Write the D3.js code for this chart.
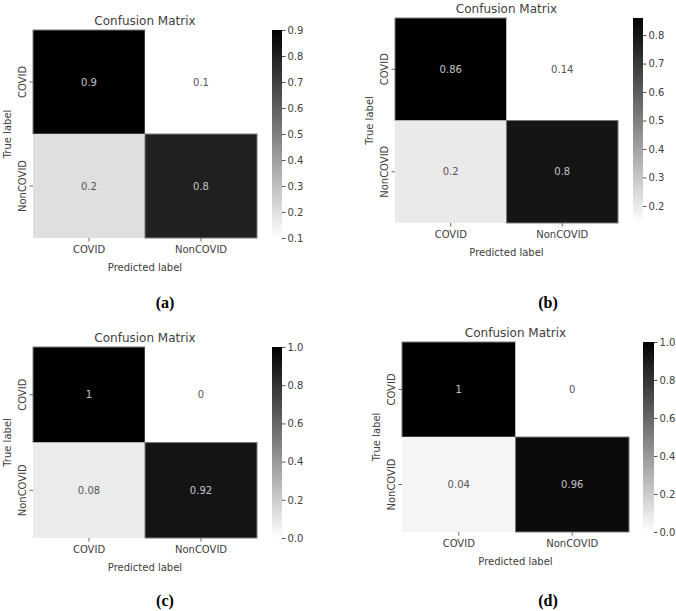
<!DOCTYPE html>
<html>
<head>
<meta charset="utf-8">
<script src="https://cdn.jsdelivr.net/npm/d3@7"></script>
<style>
  html, body { margin: 0; padding: 0; background: #fff; }
  svg { display: block; font-family: "DejaVu Sans", sans-serif; }
  text.plabel { font-family: "Liberation Serif", "Times New Roman", serif; font-weight: bold; }
</style>
</head>
<body>
<svg id="chart" width="676" height="611"></svg>
<script>
// ---- data ----
const categories = ["COVID", "NonCOVID"];
const titleText = "Confusion Matrix";
const xLabel = "Predicted label";
const yLabel = "True label";
const panelLabels = ["(a)", "(b)", "(c)", "(d)"];
const matrixA = [[0.9, 0.1], [0.2, 0.8]];
const matrixB = [[0.86, 0.14], [0.2, 0.8]];
const matrixC = [[1, 0], [0.08, 0.92]];
const matrixD = [[1, 0], [0.04, 0.96]];
const ticksA = [0.1, 0.2, 0.3, 0.4, 0.5, 0.6, 0.7, 0.8, 0.9];
const ticksB = [0.2, 0.3, 0.4, 0.5, 0.6, 0.7, 0.8];
const ticksC = [0.0, 0.2, 0.4, 0.6, 0.8, 1.0];
const ticksD = [0.0, 0.2, 0.4, 0.6, 0.8, 1.0];

// ---- layout (positions only) ----
const layouts = [
  { x0: 33,  y0: 30,  w: 224, h: 208, cbx: 272, cbw: 10, lx: 165, ly: 308 },
  { x0: 395, y0: 18,  w: 223, h: 205, cbx: 633, cbw: 10, lx: 548, ly: 308 },
  { x0: 33,  y0: 347, w: 224, h: 191, cbx: 272, cbw: 10, lx: 165, ly: 606 },
  { x0: 402, y0: 342, w: 227, h: 190, cbx: 643, cbw: 11, lx: 548, ly: 606 }
];
const matrices = [matrixA, matrixB, matrixC, matrixD];
const tickSets = [ticksA, ticksB, ticksC, ticksD];

const svg = d3.select("#chart");
const textCol = "#404040";

matrices.forEach((m, i) => {
  const L = layouts[i];
  const g = svg.append("g");
  const flat = m.flat();
  const vmin = d3.min(flat), vmax = d3.max(flat);
  const color = d3.scaleLinear().domain([vmin, vmax]).range(["#ffffff", "#000000"]);
  const x = d3.scaleBand().domain(categories).range([L.x0, L.x0 + L.w]);
  const y = d3.scaleBand().domain(categories).range([L.y0, L.y0 + L.h]);

  const cells = [];
  m.forEach((row, r) => row.forEach((v, c) => cells.push({ r: categories[r], c: categories[c], v })));

  g.selectAll("rect.cell").data(cells).enter().append("rect")
    .attr("x", d => x(d.c)).attr("y", d => y(d.r))
    .attr("width", x.bandwidth()).attr("height", y.bandwidth())
    .attr("fill", d => color(d.v))
    .attr("stroke", d => (d.v - vmin) / (vmax - vmin) > 0.5 ? "#7a7a7a" : "none")
    .attr("stroke-width", 1);

  g.selectAll("text.ann").data(cells).enter().append("text")
    .attr("x", d => x(d.c) + x.bandwidth() / 2)
    .attr("y", d => y(d.r) + y.bandwidth() / 2)
    .attr("dy", "0.35em")
    .attr("text-anchor", "middle")
    .attr("font-size", 10)
    .attr("fill", d => (d.v - vmin) / (vmax - vmin) > 0.5 ? "#c4c4c4" : "#555555")
    .text(d => String(d.v));

  // x axis
  const xa = g.append("g").attr("transform", `translate(0,${L.y0 + L.h})`)
    .call(d3.axisBottom(x).tickSize(3.5).tickPadding(4));
  xa.select(".domain").remove();
  xa.selectAll("line").attr("stroke", "#666");
  xa.selectAll("text").attr("font-size", 10).attr("fill", textCol)
    .attr("font-family", "DejaVu Sans, sans-serif");

  // y axis
  const ya = g.append("g").attr("transform", `translate(${L.x0},0)`)
    .call(d3.axisLeft(y).tickSize(3.5).tickPadding(4));
  ya.select(".domain").remove();
  ya.selectAll("line").attr("stroke", "#666");
  ya.selectAll("text").attr("font-size", 10).attr("fill", textCol)
    .attr("font-family", "DejaVu Sans, sans-serif")
    .attr("text-anchor", "middle")
    .attr("x", null)
    .attr("transform", "translate(-11,0) rotate(-90)")
    .attr("dy", "0.35em");

  // title
  g.append("text").attr("x", L.x0 + L.w / 2).attr("y", L.y0 - 5)
    .attr("text-anchor", "middle").attr("font-size", 12).attr("fill", textCol)
    .text(titleText);
  // x label
  g.append("text").attr("x", L.x0 + L.w / 2).attr("y", L.y0 + L.h + 33)
    .attr("text-anchor", "middle").attr("font-size", 10).attr("fill", textCol)
    .text(xLabel);
  // y label
  g.append("text")
    .attr("transform", `translate(${L.x0 - 26},${L.y0 + L.h / 2}) rotate(-90)`)
    .attr("text-anchor", "middle").attr("dy", "0.35em")
    .attr("font-size", 10).attr("fill", textCol)
    .text(yLabel);

  // colorbar
  const gradId = "grad" + i;
  const grad = svg.append("defs").append("linearGradient").attr("id", gradId)
    .attr("x1", 0).attr("y1", 1).attr("x2", 0).attr("y2", 0);
  grad.append("stop").attr("offset", "0%").attr("stop-color", color(vmin));
  grad.append("stop").attr("offset", "100%").attr("stop-color", color(vmax));
  g.append("rect").attr("x", L.cbx).attr("y", L.y0).attr("width", L.cbw).attr("height", L.h)
    .attr("fill", `url(#${gradId})`);
  const cy = d3.scaleLinear().domain([vmin, vmax]).range([L.y0 + L.h, L.y0]);
  const ca = g.append("g").attr("transform", `translate(${L.cbx + L.cbw},0)`)
    .call(d3.axisRight(cy).tickValues(tickSets[i]).tickFormat(d3.format(".1f")).tickSize(3.5).tickPadding(2));
  ca.select(".domain").remove();
  ca.selectAll("line").attr("stroke", "#555");
  ca.selectAll("text").attr("font-size", 10).attr("fill", textCol)
    .attr("font-family", "DejaVu Sans, sans-serif");

  // panel label
  svg.append("text").attr("class", "plabel").attr("x", L.lx).attr("y", L.ly)
    .attr("text-anchor", "middle")
    .attr("font-size", 16).attr("fill", "#000")
    .text(panelLabels[i]);
});
</script>
</body>
</html>
